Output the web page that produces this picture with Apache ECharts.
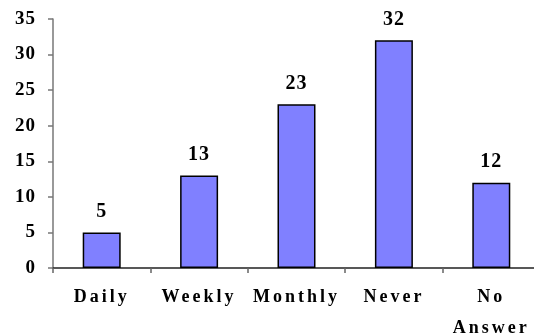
<!DOCTYPE html>
<html>
<head>
<meta charset="utf-8">
<script src="https://cdn.jsdelivr.net/npm/echarts@6/dist/echarts.min.js"></script>
<style>
html,body{margin:0;padding:0;background:#fff;}
#chart{width:534px;height:336px;}
</style>
</head>
<body>
<div id="chart"></div>
<script>
// Survey responses by frequency
const categories = ['Daily', 'Weekly', 'Monthly', 'Never', 'No\nAnswer'];
const counts = [5, 13, 23, 32, 12];
const yTicks = { min: 0, max: 35, interval: 5 };

// Tracked (letter-spaced) text: fonts tagged with a "track-N" family get N px spacing.
(function () {
  const proto = CanvasRenderingContext2D.prototype;
  const origFill = proto.fillText;
  proto.fillText = function (text, x, y, maxW) {
    const m = /track-(\d+(?:\.\d+)?)/.exec(this.font || '');
    if (m && 'letterSpacing' in this) {
      const prev = this.letterSpacing;
      this.letterSpacing = m[1] + 'px';
      const r = maxW === undefined ? origFill.call(this, text, x, y) : origFill.call(this, text, x, y, maxW);
      this.letterSpacing = prev;
      return r;
    }
    return maxW === undefined ? origFill.call(this, text, x, y) : origFill.call(this, text, x, y, maxW);
  };
})();

const serif = '"Liberation Serif", "Times New Roman", serif';
const tracked = n => '"track-' + n + '", ' + serif;

const chart = echarts.init(document.getElementById('chart'), null, { renderer: 'canvas' });
chart.setOption({
  animation: false,
  grid: { left: 53, right: -6, top: 19, bottom: 68, containLabel: false, outerBoundsMode: 'none' },
  xAxis: {
    type: 'category',
    data: categories,
    axisLine: { lineStyle: { color: '#222', width: 1.5 } },
    axisTick: { show: true, length: 5, lineStyle: { color: '#666', width: 1.5 } },
    axisLabel: {
      color: '#000', fontFamily: tracked(3), fontWeight: 'bold', fontSize: 18,
      margin: 14, lineHeight: 31, interval: 0
    }
  },
  yAxis: {
    type: 'value',
    min: yTicks.min, max: yTicks.max, interval: yTicks.interval,
    splitLine: { show: false },
    axisLine: { show: true, lineStyle: { color: '#777', width: 1.5 } },
    axisTick: { show: true, length: 5, lineStyle: { color: '#777', width: 1.5 } },
    axisLabel: { color: '#000', fontFamily: tracked(1), fontWeight: 'bold', fontSize: 19, margin: 17 }
  },
  series: [{
    type: 'bar',
    data: counts,
    barWidth: '39%',
    itemStyle: { color: '#8080FF', borderColor: '#000', borderWidth: 1.5 },
    label: {
      show: true, position: 'top', distance: 11,
      color: '#000', fontFamily: serif, fontWeight: 'bold', fontSize: 20
    }
  }]
});
</script>
</body>
</html>
